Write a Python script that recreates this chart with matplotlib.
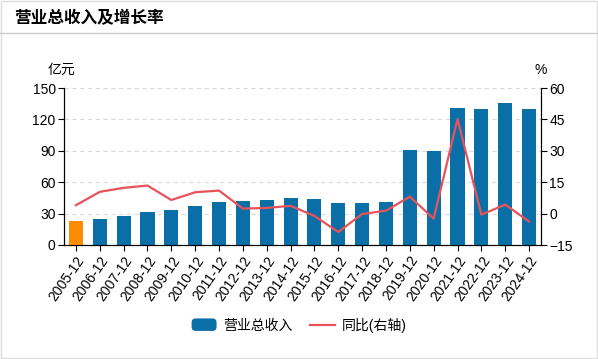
import matplotlib
matplotlib.use("Agg")
import matplotlib.pyplot as plt
from matplotlib.lines import Line2D
from matplotlib.patches import Rectangle, FancyBboxPatch
from matplotlib.legend_handler import HandlerPatch

plt.rcParams['font.family'] = ['Liberation Sans', 'Noto Sans CJK SC']

years = ["2005-12", "2006-12", "2007-12", "2008-12", "2009-12", "2010-12",
         "2011-12", "2012-12", "2013-12", "2014-12", "2015-12", "2016-12",
         "2017-12", "2018-12", "2019-12", "2020-12", "2021-12", "2022-12",
         "2023-12", "2024-12"]
revenue = [22.7, 24.9, 28.1, 31.6, 33.8, 37.3, 41.2, 42.1, 43.1, 45.0,
           44.4, 40.2, 40.2, 40.8, 90.9, 90.0, 130.8, 129.9, 135.6, 129.9]
yoy = [4.0, 10.4, 12.3, 13.4, 6.5, 10.2, 11.0, 2.4, 2.7, 3.7,
       -1.1, -8.8, -0.2, 1.4, 8.1, -2.4, 45.2, -0.5, 4.3, -3.8]

blue = "#0a6fa6"
orange = "#ff8c00"
red = "#e8535a"

fig = plt.figure(figsize=(5.98, 3.59), dpi=100)
ax = fig.add_axes([64/598, 1-245/359, 477/598, 157/359])
ax2 = ax.twinx()

x = list(range(len(years)))
colors = [orange] + [blue] * (len(years) - 1)
ax.bar(x, revenue, width=0.59, color=colors, zorder=3)
ax.set_xlim(-0.5, len(years) - 0.5)
ax.set_ylim(0, 150)
ax.set_yticks([0, 30, 60, 90, 120, 150])
ax.grid(axis="y", color="#d9d9d9", linestyle=(0, (4, 3)), linewidth=0.8, zorder=0)
ax.set_xticks(x)
ax.set_xticklabels(years, rotation=55, ha="right", rotation_mode="anchor", fontsize=10)
ax.tick_params(axis="both", labelsize=10, length=4, width=0.8, pad=2)

ax2.plot(x, yoy, color=red, linewidth=1.6, zorder=4)
ax2.set_ylim(-15, 60)
ax2.set_yticks([-15, 0, 15, 30, 45, 60])
ax2.tick_params(axis="y", labelsize=10, length=4, width=0.8, pad=2)

for a in (ax, ax2):
    a.spines["top"].set_visible(False)
    for s in ("left", "right", "bottom"):
        a.spines[s].set_linewidth(0.8)

ax.text(-0.005, 1.07, "亿元", transform=ax.transAxes, ha="center", va="bottom", fontsize=10)
ax2.text(1.0, 1.07, "%", transform=ax.transAxes, ha="center", va="bottom", fontsize=10)

# title and frame
fig.text(14/598, 1-18/359, "营业总收入及增长率", fontsize=12, fontweight="bold",
         va="center", ha="left")
fig.add_artist(Line2D([0, 1], [1-33/359, 1-33/359], color="#cccccc", linewidth=1))
fig.add_artist(Rectangle((0.001, 0.002), 0.997, 0.995, fill=False,
                         edgecolor="#dddddd", linewidth=1, transform=fig.transFigure))


class RoundHandler(HandlerPatch):
    def create_artists(self, legend, orig_handle, xdescent, ydescent, width, height, fontsize, trans):
        p = FancyBboxPatch((-xdescent, -ydescent - 1), width, height + 2,
                           boxstyle="round,pad=0,rounding_size=3",
                           facecolor=blue, edgecolor="none", transform=trans)
        return [p]


bar_handle = Rectangle((0, 0), 1, 1, color=blue)
line_handle = Line2D([], [], color=red, linewidth=1.6)
fig.legend([bar_handle, line_handle], ["营业总收入", "同比(右轴)"],
           loc="center", bbox_to_anchor=(0.5, 1-325/359), ncol=2, frameon=False,
           fontsize=10, handlelength=1.8, columnspacing=1.2, handletextpad=0.5,
           handler_map={Rectangle: RoundHandler()})

fig.savefig("out.png", dpi=100)
